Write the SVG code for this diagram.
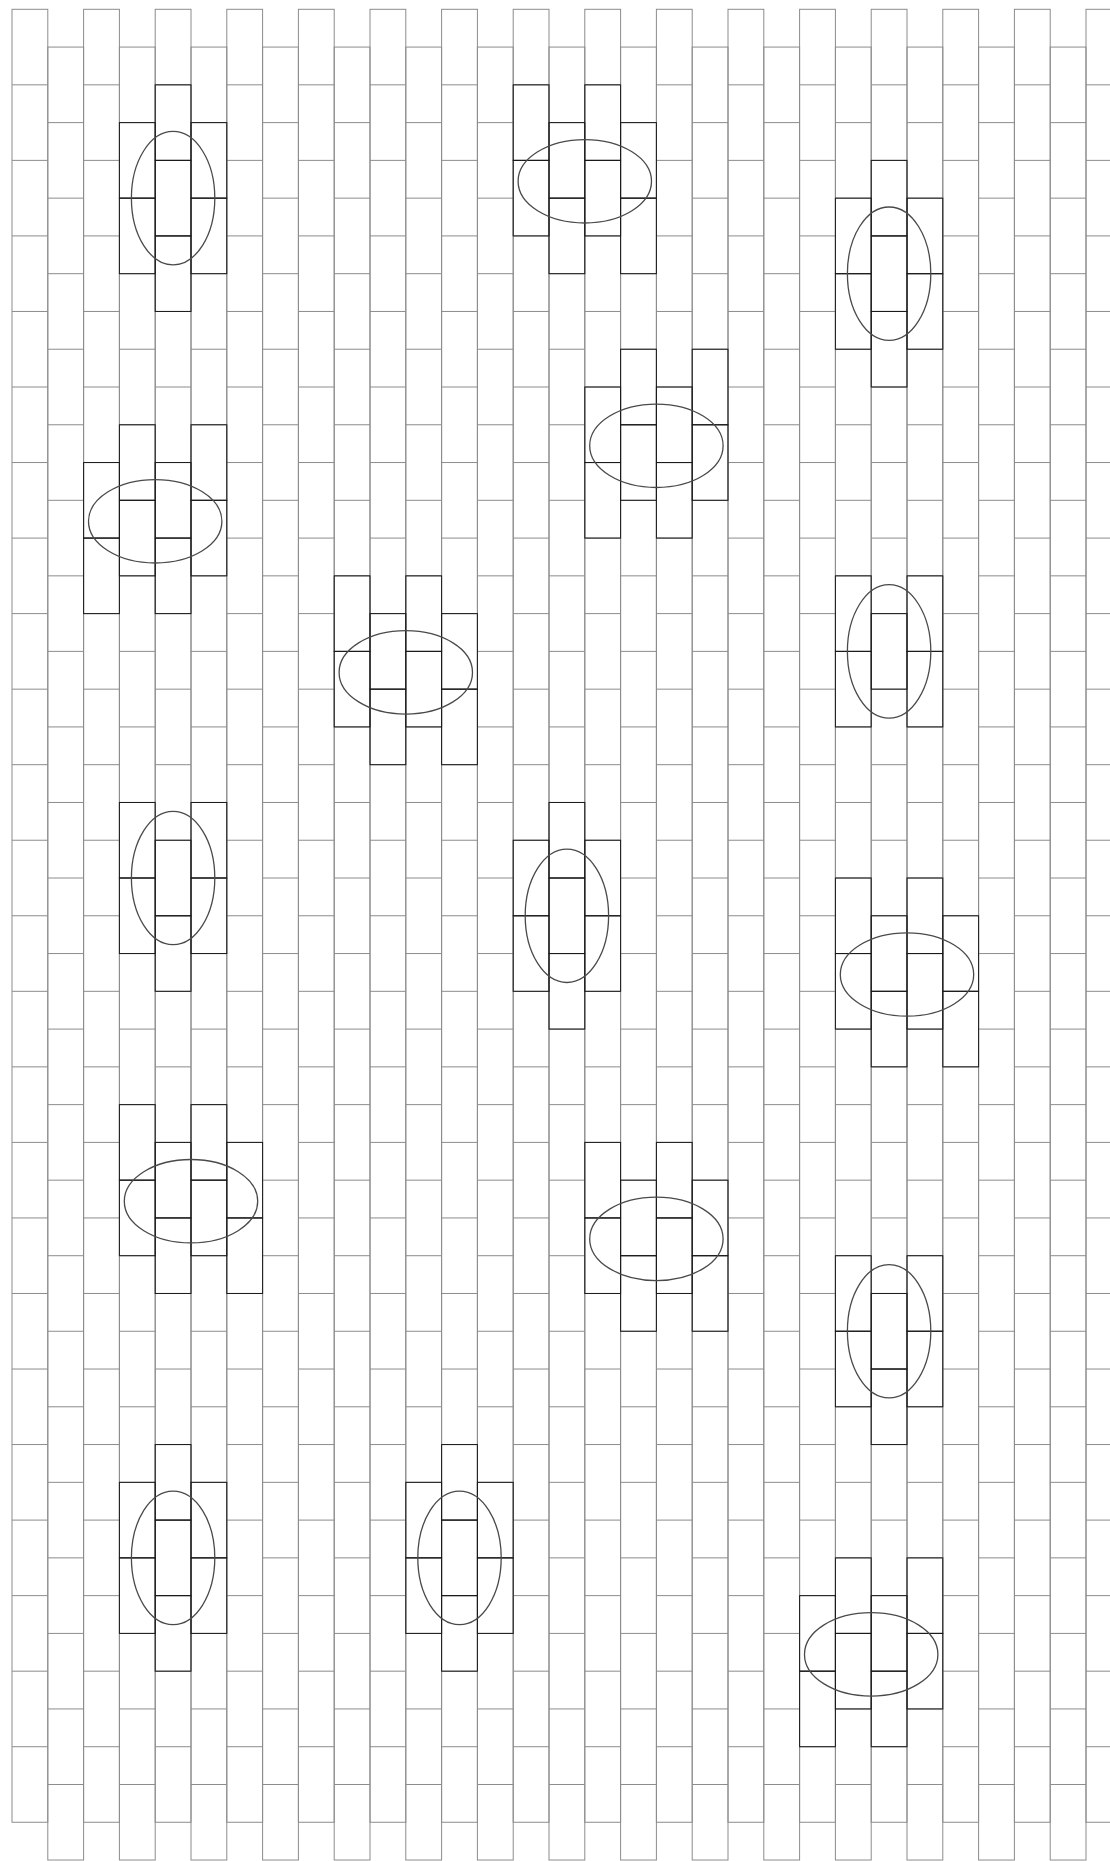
<svg xmlns="http://www.w3.org/2000/svg" xmlns:xlink="http://www.w3.org/1999/xlink" width="1110" height="1861" viewBox="0 0 1110 1861">
<style>
.grid{fill:none;stroke:#8c8c8c;stroke-width:1}
.hl{fill:none;stroke:#1a1a1a;stroke-width:1}
.ring{fill:none;stroke:#4a4a4a;stroke-width:1.3}
</style>
<defs>
<g id="col">
<rect x="0" y="0" width="35.8" height="1812.96"/>
<path d="M0 75.54h35.8M0 151.08h35.8M0 226.62h35.8M0 302.16h35.8M0 377.7h35.8M0 453.24h35.8M0 528.78h35.8M0 604.32h35.8M0 679.86h35.8M0 755.4h35.8M0 830.94h35.8M0 906.48h35.8M0 982.02h35.8M0 1057.56h35.8M0 1133.1h35.8M0 1208.64h35.8M0 1284.18h35.8M0 1359.72h35.8M0 1435.26h35.8M0 1510.8h35.8M0 1586.34h35.8M0 1661.88h35.8M0 1737.42h35.8"/>
</g>
<rect id="b" x="0" y="0" width="35.8" height="75.54"/>
<ellipse id="ev" cx="0" cy="0" rx="41.7" ry="66.7"/>
<ellipse id="eh" cx="0" cy="0" rx="66.7" ry="41.7"/>
</defs>
<rect x="0" y="0" width="1110" height="1861" fill="#ffffff"/>
<g id="brick-grid" class="grid">
<use href="#col" x="12" y="9.3"/>
<use href="#col" x="47.8" y="47.07"/>
<use href="#col" x="83.6" y="9.3"/>
<use href="#col" x="119.4" y="47.07"/>
<use href="#col" x="155.2" y="9.3"/>
<use href="#col" x="191" y="47.07"/>
<use href="#col" x="226.8" y="9.3"/>
<use href="#col" x="262.6" y="47.07"/>
<use href="#col" x="298.4" y="9.3"/>
<use href="#col" x="334.2" y="47.07"/>
<use href="#col" x="370" y="9.3"/>
<use href="#col" x="405.8" y="47.07"/>
<use href="#col" x="441.6" y="9.3"/>
<use href="#col" x="477.4" y="47.07"/>
<use href="#col" x="513.2" y="9.3"/>
<use href="#col" x="549" y="47.07"/>
<use href="#col" x="584.8" y="9.3"/>
<use href="#col" x="620.6" y="47.07"/>
<use href="#col" x="656.4" y="9.3"/>
<use href="#col" x="692.2" y="47.07"/>
<use href="#col" x="728" y="9.3"/>
<use href="#col" x="763.8" y="47.07"/>
<use href="#col" x="799.6" y="9.3"/>
<use href="#col" x="835.4" y="47.07"/>
<use href="#col" x="871.2" y="9.3"/>
<use href="#col" x="907" y="47.07"/>
<use href="#col" x="942.8" y="9.3"/>
<use href="#col" x="978.6" y="47.07"/>
<use href="#col" x="1014.4" y="9.3"/>
<use href="#col" x="1050.2" y="47.07"/>
<use href="#col" x="1086" y="9.3"/>
</g>
<g id="highlights" class="hl">
<g id="p1"><use href="#b" x="155.2" y="84.84"/><use href="#b" x="155.2" y="160.38"/><use href="#b" x="155.2" y="235.92"/><use href="#b" x="119.4" y="122.61"/><use href="#b" x="119.4" y="198.15"/><use href="#b" x="191" y="122.61"/><use href="#b" x="191" y="198.15"/></g>
<g id="p2"><use href="#b" x="513.2" y="84.84"/><use href="#b" x="513.2" y="160.38"/><use href="#b" x="584.8" y="84.84"/><use href="#b" x="584.8" y="160.38"/><use href="#b" x="549" y="122.61"/><use href="#b" x="549" y="198.15"/><use href="#b" x="620.6" y="122.61"/><use href="#b" x="620.6" y="198.15"/></g>
<g id="p3"><use href="#b" x="871.2" y="160.38"/><use href="#b" x="871.2" y="235.92"/><use href="#b" x="871.2" y="311.46"/><use href="#b" x="835.4" y="198.15"/><use href="#b" x="835.4" y="273.69"/><use href="#b" x="907" y="198.15"/><use href="#b" x="907" y="273.69"/></g>
<g id="p4"><use href="#b" x="584.8" y="387"/><use href="#b" x="584.8" y="462.54"/><use href="#b" x="656.4" y="387"/><use href="#b" x="656.4" y="462.54"/><use href="#b" x="620.6" y="349.23"/><use href="#b" x="620.6" y="424.77"/><use href="#b" x="692.2" y="349.23"/><use href="#b" x="692.2" y="424.77"/></g>
<g id="p5"><use href="#b" x="83.6" y="462.54"/><use href="#b" x="83.6" y="538.08"/><use href="#b" x="155.2" y="462.54"/><use href="#b" x="155.2" y="538.08"/><use href="#b" x="119.4" y="424.77"/><use href="#b" x="119.4" y="500.31"/><use href="#b" x="191" y="424.77"/><use href="#b" x="191" y="500.31"/></g>
<g id="p6"><use href="#b" x="871.2" y="613.62"/><use href="#b" x="835.4" y="575.85"/><use href="#b" x="835.4" y="651.39"/><use href="#b" x="907" y="575.85"/><use href="#b" x="907" y="651.39"/></g>
<g id="p7"><use href="#b" x="334.2" y="575.85"/><use href="#b" x="334.2" y="651.39"/><use href="#b" x="405.8" y="575.85"/><use href="#b" x="405.8" y="651.39"/><use href="#b" x="370" y="613.62"/><use href="#b" x="370" y="689.16"/><use href="#b" x="441.6" y="613.62"/><use href="#b" x="441.6" y="689.16"/></g>
<g id="p8"><use href="#b" x="155.2" y="840.24"/><use href="#b" x="155.2" y="915.78"/><use href="#b" x="119.4" y="802.47"/><use href="#b" x="119.4" y="878.01"/><use href="#b" x="191" y="802.47"/><use href="#b" x="191" y="878.01"/></g>
<g id="p9"><use href="#b" x="549" y="802.47"/><use href="#b" x="549" y="878.01"/><use href="#b" x="549" y="953.55"/><use href="#b" x="513.2" y="840.24"/><use href="#b" x="513.2" y="915.78"/><use href="#b" x="584.8" y="840.24"/><use href="#b" x="584.8" y="915.78"/></g>
<g id="p10"><use href="#b" x="835.4" y="878.01"/><use href="#b" x="835.4" y="953.55"/><use href="#b" x="907" y="878.01"/><use href="#b" x="907" y="953.55"/><use href="#b" x="871.2" y="915.78"/><use href="#b" x="871.2" y="991.32"/><use href="#b" x="942.8" y="915.78"/><use href="#b" x="942.8" y="991.32"/></g>
<g id="p11"><use href="#b" x="119.4" y="1104.63"/><use href="#b" x="119.4" y="1180.17"/><use href="#b" x="191" y="1104.63"/><use href="#b" x="191" y="1180.17"/><use href="#b" x="155.2" y="1142.4"/><use href="#b" x="155.2" y="1217.94"/><use href="#b" x="226.8" y="1142.4"/><use href="#b" x="226.8" y="1217.94"/></g>
<g id="p12"><use href="#b" x="584.8" y="1142.4"/><use href="#b" x="584.8" y="1217.94"/><use href="#b" x="656.4" y="1142.4"/><use href="#b" x="656.4" y="1217.94"/><use href="#b" x="620.6" y="1180.17"/><use href="#b" x="620.6" y="1255.71"/><use href="#b" x="692.2" y="1180.17"/><use href="#b" x="692.2" y="1255.71"/></g>
<g id="p13"><use href="#b" x="871.2" y="1293.48"/><use href="#b" x="871.2" y="1369.02"/><use href="#b" x="835.4" y="1255.71"/><use href="#b" x="835.4" y="1331.25"/><use href="#b" x="907" y="1255.71"/><use href="#b" x="907" y="1331.25"/></g>
<g id="p14"><use href="#b" x="155.2" y="1444.56"/><use href="#b" x="155.2" y="1520.1"/><use href="#b" x="155.2" y="1595.64"/><use href="#b" x="119.4" y="1482.33"/><use href="#b" x="119.4" y="1557.87"/><use href="#b" x="191" y="1482.33"/><use href="#b" x="191" y="1557.87"/></g>
<g id="p15"><use href="#b" x="441.6" y="1444.56"/><use href="#b" x="441.6" y="1520.1"/><use href="#b" x="441.6" y="1595.64"/><use href="#b" x="405.8" y="1482.33"/><use href="#b" x="405.8" y="1557.87"/><use href="#b" x="477.4" y="1482.33"/><use href="#b" x="477.4" y="1557.87"/></g>
<g id="p16"><use href="#b" x="799.6" y="1595.64"/><use href="#b" x="799.6" y="1671.18"/><use href="#b" x="871.2" y="1595.64"/><use href="#b" x="871.2" y="1671.18"/><use href="#b" x="835.4" y="1557.87"/><use href="#b" x="835.4" y="1633.41"/><use href="#b" x="907" y="1557.87"/><use href="#b" x="907" y="1633.41"/></g>
</g>
<g id="rings" class="ring">
<use href="#ev" x="173.1" y="198.15"/>
<use href="#eh" x="584.8" y="181.3"/>
<use href="#ev" x="889.1" y="273.69"/>
<use href="#eh" x="656.4" y="445.8"/>
<use href="#eh" x="155.2" y="521.3"/>
<use href="#ev" x="889.1" y="651.39"/>
<use href="#eh" x="405.8" y="672.4"/>
<use href="#ev" x="173.1" y="878.01"/>
<use href="#ev" x="566.9" y="915.78"/>
<use href="#eh" x="907" y="974.5"/>
<use href="#eh" x="191" y="1201.2"/>
<use href="#eh" x="656.4" y="1238.9"/>
<use href="#ev" x="889.1" y="1331.25"/>
<use href="#ev" x="173.1" y="1557.87"/>
<use href="#ev" x="459.5" y="1557.87"/>
<use href="#eh" x="871.2" y="1654.4"/>
</g>
</svg>
